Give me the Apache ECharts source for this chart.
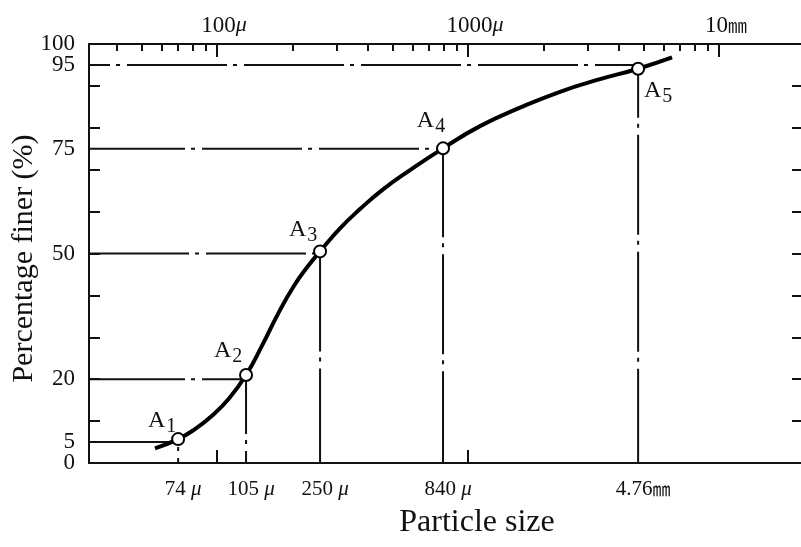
<!DOCTYPE html>
<html><head><meta charset="utf-8">
<script src="https://cdn.jsdelivr.net/npm/echarts@6/dist/echarts.min.js"></script>
<style>html,body{margin:0;padding:0;background:#fff;}#c{width:801px;height:547px;}</style>
</head><body><div id="c"></div>
<script>
// ---------------- data ----------------
// grain-size curve: particle size (micron) vs percentage finer
const curveSize  = [56.6, 70, 81.7, 95.5, 111.6, 130.5, 151.1, 175, 202.7, 230.5, 257.3, 309, 371.3, 458.6, 587.3, 795, 1116, 1611, 2325, 3357, 4760, 6497];
const curveFiner = [3.5, 5.7, 8.1, 11.3, 15.4, 21.0, 28.0, 35.6, 42.3, 47.0, 50.5, 56.0, 60.6, 65.3, 69.9, 75.1, 80.4, 84.8, 88.6, 91.6, 94.1, 96.8];
// marked points A1..A5 (positions as drawn on the chart)
const pointIndex = ['1', '2', '3', '4', '5'];
const pointSize  = [70, 130.5, 257.3, 795, 4760];
const pointFiner = [5.7, 21.0, 50.5, 75.1, 94.1];
const guideLevels = [5, 20, 50, 75, 95];
const sizeLabels = ['74 μ', '105 μ', '250 μ', '840 μ', '4.76㎜'];
// axes
const xMin = 30.9, xMax = 21600;
const topTickValues = [100, 1000, 10000];
const topTickLabels = ['100μ', '1000μ', '10㎜'];
const topMinorTicks = [40, 50, 60, 70, 80, 90, 200, 300, 400, 500, 600, 700, 800, 900, 2000, 3000, 4000, 5000, 6000, 7000, 8000, 9000];
const bottomTicks = [100, 1000];
const yMainLabels = [0, 20, 50, 75, 100];
const yExtraLabels = [5, 95];
const yMinorTicks = [10, 20, 30, 40, 50, 60, 70, 80, 90];

// ---------------- styling / layout ----------------
const FONT = '"Liberation Serif", "Times New Roman", "Noto Sans CJK JP", serif';
const INK = '#111';
const DASH = [100, 6, 4, 7];
const hDashOffset = [0, 4, 0, 4, 79];
const vDashOffset = [98, 41, 0, 11, 51];
const labelOffset = [[-16, -18], [-18, -24], [-17, -22], [-12, -28], [20, 22]];

function nearestIdx(arr, v) {
  let b = 0, bd = Infinity;
  arr.forEach((a, i) => { const d = Math.abs(Math.log(a) - Math.log(v)); if (d < bd) { bd = d; b = i; } });
  return b;
}
function richUnits(s) {
  return s.replace('μ', '{u|μ}').replace('㎜', '{m|㎜}');
}
const yLabelStyle = { margin: 14, fontFamily: FONT, fontSize: 23, color: INK, showMinLabel: true, showMaxLabel: true, hideOverlap: false };

const series = [];
pointSize.forEach((x, i) => {
  series.push({
    type: 'line', data: [[xMin, guideLevels[i]], [x, guideLevels[i]]],
    symbol: 'none', silent: true, z: 2, animation: false,
    lineStyle: { color: INK, width: 2, type: DASH, dashOffset: hDashOffset[i] }
  });
  series.push({
    type: 'line', data: [[x, pointFiner[i]], [x, 0]],
    symbol: 'none', silent: true, z: 2, animation: false,
    lineStyle: { color: INK, width: 2, type: DASH, dashOffset: vDashOffset[i] }
  });
});
series.push({
  type: 'line', data: curveSize.map((x, i) => [x, curveFiner[i]]),
  smooth: 0.5, symbol: 'none', z: 3, animation: false,
  lineStyle: { color: '#000', width: 4 }
});
series.push({
  type: 'scatter', z: 5, animation: false,
  symbol: 'circle', symbolSize: 12,
  itemStyle: { color: '#fff', borderColor: '#000', borderWidth: 2, opacity: 1 },
  data: pointSize.map((x, i) => ({ value: [x, pointFiner[i]], label: { offset: labelOffset[i] } })),
  label: {
    show: true, position: 'inside',
    formatter: p => '{a|A}{s|' + pointIndex[p.dataIndex] + '}',
    rich: {
      a: { fontFamily: FONT, fontSize: 24, color: INK },
      s: { fontFamily: FONT, fontSize: 20, color: INK, padding: [12, 0, 0, 1] }
    }
  }
});

const chart = echarts.init(document.getElementById('c'), null, { renderer: 'canvas' });
chart.setOption({
  backgroundColor: '#fff',
  animation: false,
  grid: { left: 89, right: -2, top: 44, bottom: 84, containLabel: false, outerBoundsMode: 'none' },
  xAxis: [
    {
      type: 'log', position: 'bottom', min: xMin, max: xMax, logBase: 10,
      axisLine: { show: true, onZero: false, lineStyle: { color: INK, width: 2 } },
      axisTick: { show: true, inside: true, length: 13, customValues: bottomTicks, lineStyle: { color: INK, width: 2 } },
      minorTick: { show: false }, splitLine: { show: false },
      axisLabel: {
        customValues: pointSize, margin: 16, fontFamily: FONT, fontSize: 21, color: INK,
        padding: [0, 0, 0, 10], showMinLabel: true, showMaxLabel: true,
        formatter: v => richUnits(sizeLabels[nearestIdx(pointSize, v)]),
        rich: { u: { fontFamily: FONT, fontStyle: 'italic', color: INK, fontSize: 21 }, m: { fontFamily: '"Noto Sans CJK JP", sans-serif', color: INK, fontSize: 18 } }
      },
      name: 'Particle size', nameLocation: 'middle', nameGap: 44, nameMoveOverlap: false,
      nameTextStyle: { fontFamily: FONT, fontSize: 32, color: INK, padding: [0, 0, 0, 62] }
    },
    {
      type: 'log', position: 'top', min: xMin, max: xMax, logBase: 10,
      axisLine: { show: true, onZero: false, lineStyle: { color: INK, width: 2 } },
      axisTick: { show: true, inside: true, length: 13, customValues: topTickValues, lineStyle: { color: INK, width: 2 } },
      minorTick: { show: false }, splitLine: { show: false },
      axisLabel: {
        customValues: topTickValues, margin: 7, fontFamily: FONT, fontSize: 23, color: INK,
        padding: [0, 0, 0, 14], showMinLabel: true, showMaxLabel: true,
        formatter: v => richUnits(topTickLabels[nearestIdx(topTickValues, v)]),
        rich: { u: { fontFamily: FONT, fontStyle: 'italic', color: INK, fontSize: 22 }, m: { fontFamily: '"Noto Sans CJK JP", sans-serif', color: INK, fontSize: 19 } }
      }
    },
    {
      type: 'log', position: 'top', min: xMin, max: xMax, logBase: 10,
      axisLine: { show: false, onZero: false },
      axisTick: { show: true, inside: true, length: 7, customValues: topMinorTicks, lineStyle: { color: INK, width: 2 } },
      axisLabel: { show: false }, splitLine: { show: false }
    }
  ],
  yAxis: [
    {
      type: 'value', position: 'left', min: 0, max: 100,
      axisLine: { show: true, onZero: false, lineStyle: { color: INK, width: 2 } },
      axisTick: { show: false }, splitLine: { show: false },
      axisLabel: Object.assign({ customValues: yMainLabels }, yLabelStyle),
      name: 'Percentage finer (%)', nameLocation: 'middle', nameGap: 50, nameMoveOverlap: false,
      nameTextStyle: { fontFamily: FONT, fontSize: 30, color: INK, padding: [0, 10, 0, 0] }
    },
    {
      type: 'value', position: 'left', min: 0, max: 100,
      axisLine: { show: false, onZero: false },
      axisTick: { show: true, inside: true, length: 11, customValues: yMinorTicks, lineStyle: { color: INK, width: 2 } },
      axisLabel: Object.assign({ customValues: yExtraLabels }, yLabelStyle), splitLine: { show: false }
    },
    {
      type: 'value', position: 'right', min: 0, max: 100,
      axisLine: { show: false, onZero: false },
      axisTick: { show: true, inside: true, length: 11, customValues: yMinorTicks, lineStyle: { color: INK, width: 2 } },
      axisLabel: { show: false }, splitLine: { show: false }
    }
  ],
  series: series
});
</script></body></html>
